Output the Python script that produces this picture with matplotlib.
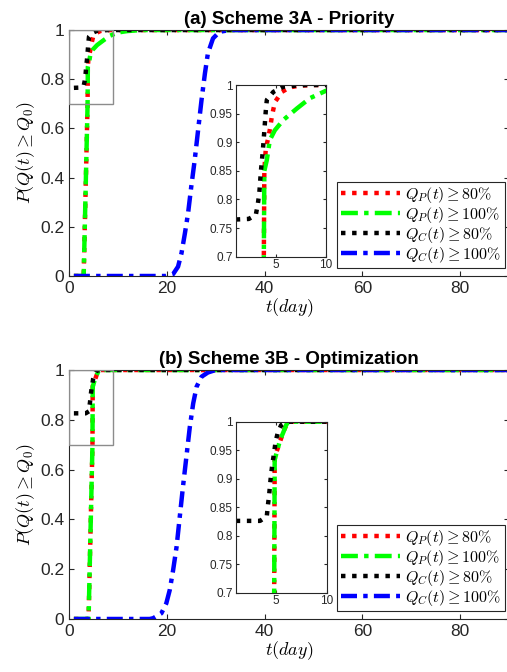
import matplotlib
matplotlib.use("Agg")
import matplotlib.pyplot as plt
from matplotlib.patches import Rectangle

plt.rcParams["font.family"] = ["Liberation Sans", "DejaVu Sans"]
plt.rcParams["mathtext.fontset"] = "cm"

# ---- data: (a) Scheme 3A - Priority ----
t_a_p80 = [1, 3.0, 3.4, 3.8, 3.85, 4.0, 4.25, 4.45, 4.6, 4.9, 5.6, 6.4, 7.4, 9, 100]
v_a_p80 = [0, 0, 0.35, 0.70, 0.85, 0.89, 0.908, 0.927, 0.945, 0.97, 0.988, 0.996, 0.999, 1, 1]
t_a_p100 = [1, 3.0, 3.4, 3.8, 3.85, 4.1, 4.4, 4.9, 5.75, 7.1, 8.4, 10, 12, 15, 100]
v_a_p100 = [0, 0, 0.35, 0.70, 0.85, 0.869, 0.904, 0.921, 0.939, 0.959, 0.977, 0.99, 0.996, 1, 1]
t_a_c80 = [1, 2.3, 3.0, 3.2, 3.35, 3.5, 3.7, 3.85, 4.0, 4.1, 4.75, 5.75, 7, 8, 100]
v_a_c80 = [0.765, 0.766, 0.773, 0.792, 0.811, 0.848, 0.885, 0.92, 0.956, 0.974, 0.988, 0.997, 0.999, 1, 1]
t_a_c100 = [1, 19.9, 21.3, 22.3, 23.0, 23.7, 24.35, 25.0, 25.7, 26.4, 27.1, 27.8, 28.4, 29.45, 30.8, 32.9, 100]
v_a_c100 = [0, 0, 0.008, 0.038, 0.092, 0.173, 0.255, 0.363, 0.47, 0.593, 0.715, 0.824, 0.905, 0.966, 0.993, 1, 1]

# ---- data: (b) Scheme 3B - Optimization ----
t_b_p80 = [1, 4.0, 4.4, 4.8, 4.85, 5.05, 5.4, 5.7, 6.0, 6.2, 100]
v_b_p80 = [0, 0, 0.35, 0.70, 0.935, 0.948, 0.966, 0.982, 0.994, 1, 1]
t_b_p100 = [1, 4.0, 4.4, 4.8, 4.85, 5.06, 5.39, 5.72, 5.98, 6.2, 100]
v_b_p100 = [0, 0, 0.35, 0.70, 0.933, 0.947, 0.968, 0.982, 0.994, 1, 1]
t_b_c80 = [1, 3.4, 4.07, 4.17, 4.3, 4.4, 4.5, 4.63, 4.8, 4.93, 5.16, 5.49, 5.88, 6.3, 100]
v_b_c80 = [0.826, 0.826, 0.834, 0.852, 0.871, 0.891, 0.908, 0.927, 0.946, 0.964, 0.981, 0.994, 0.998, 1, 1]
t_b_c100 = [1, 16.5, 17.2, 18.9, 19.9, 20.6, 21.3, 22.0, 22.65, 23.3, 24.0, 24.7, 25.4, 26.1, 27.1, 28.4, 30, 100]
v_b_c100 = [0, 0, 0.003, 0.023, 0.063, 0.116, 0.197, 0.29, 0.41, 0.53, 0.65, 0.77, 0.866, 0.933, 0.973, 0.99, 1, 1]

titles = ["(a) Scheme 3A - Priority", "(b) Scheme 3B - Optimization"]
labels = [r"$Q_P(t) \geq 80\%$", r"$Q_P(t) \geq 100\%$",
          r"$Q_C(t) \geq 80\%$", r"$Q_C(t) \geq 100\%$"]
zoom_box = (0, 9, 0.7, 1.0)  # t0, t1, p0, p1

panels = [
    [(t_a_p80, v_a_p80), (t_a_p100, v_a_p100), (t_a_c80, v_a_c80), (t_a_c100, v_a_c100)],
    [(t_b_p80, v_b_p80), (t_b_p100, v_b_p100), (t_b_c80, v_b_c80), (t_b_c100, v_b_c100)],
]

styles = [
    dict(color=(1, 0, 0), linestyle=(0, (1, 1.5))),
    dict(color=(0, 1, 0), linestyle=(0, (3.8, 1.4, 1, 1.4))),
    dict(color="black", linestyle=(0, (1, 1.5))),
    dict(color=(0, 0, 1), linestyle=(0, (3.6, 1.4, 1, 1.4))),
]

axcol = "#262626"

def style_axes(ax, size):
    for s in ax.spines.values():
        s.set_color(axcol)
        s.set_linewidth(0.8)
    ax.tick_params(direction="in", top=True, right=True, labelsize=size,
                   colors=axcol, length=3.5, width=0.8)

fig = plt.figure(figsize=(5.07, 6.72), dpi=100)
main_rects = [[0.1361, 0.5893, 0.868, 0.366], [0.1361, 0.0789, 0.868, 0.3705]]
inset_rects = [[0.465, 0.618, 0.178, 0.2555], [0.465, 0.118, 0.1795, 0.2545]]

for i in range(2):
    ax = fig.add_axes(main_rects[i])
    lines = []
    for (t, v), st in zip(panels[i], styles):
        ln, = ax.plot(t, v, linewidth=3.2, dash_capstyle="butt", **st)
        lines.append(ln)
    ax.set_xlim(0, 90)
    ax.set_ylim(0, 1)
    ax.set_xticks([0, 20, 40, 60, 80])
    ax.set_yticks([0, 0.2, 0.4, 0.6, 0.8, 1])
    ax.set_yticklabels(["0", "0.2", "0.4", "0.6", "0.8", "1"])
    style_axes(ax, 12.5)
    ax.set_title(titles[i], fontsize=13.5, fontweight="bold", pad=4)
    ax.set_xlabel(r"$t(day)$", fontsize=13, labelpad=0)
    ax.set_ylabel(r"$P(Q(t) \geq Q_0)$", fontsize=13, labelpad=2)
    t0, t1, p0, p1 = zoom_box
    ax.add_patch(Rectangle((t0, p0), t1 - t0, p1 - p0, fill=False,
                           edgecolor="#8c8c8c", linewidth=1, zorder=5))
    leg = ax.legend(lines, labels, loc="lower right", bbox_to_anchor=(0.99, 0.032),
                    fontsize=11.5, handlelength=3.7, frameon=True, fancybox=False,
                    framealpha=1, borderpad=0.2, labelspacing=0.0,
                    handletextpad=0.35, borderaxespad=0)
    leg.get_frame().set_edgecolor(axcol)
    leg.get_frame().set_linewidth(0.8)

    ins = fig.add_axes(inset_rects[i])
    for (t, v), st in zip(panels[i], styles):
        ins.plot(t, v, linewidth=3.2, dash_capstyle="butt", **st)
    ins.set_xlim(1, 10)
    ins.set_ylim(0.7, 1)
    ins.set_xticks([5, 10])
    ins.set_yticks([0.7, 0.75, 0.8, 0.85, 0.9, 0.95, 1])
    ins.set_yticklabels(["0.7", "0.75", "0.8", "0.85", "0.9", "0.95", "1"])
    style_axes(ins, 8.5)
    ins.tick_params(length=2.5, pad=2)

fig.savefig("out.png", dpi=100)
